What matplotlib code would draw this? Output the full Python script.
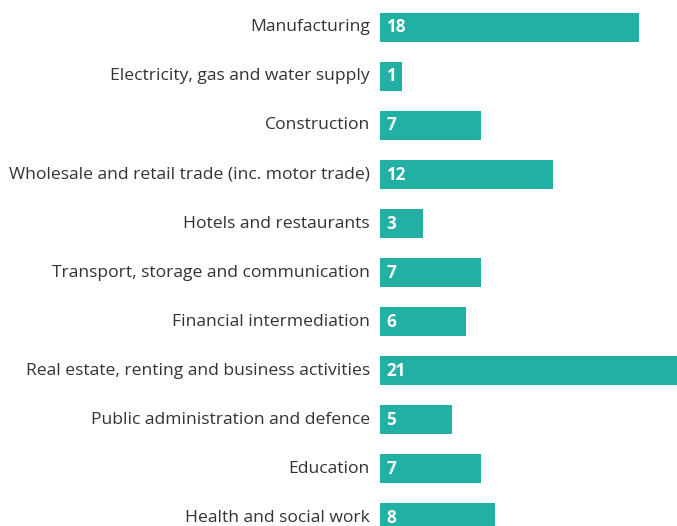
import matplotlib.pyplot as plt
import numpy as np

categories = [
    "Manufacturing",
    "Electricity, gas and water supply",
    "Construction",
    "Wholesale and retail trade (inc. motor trade)",
    "Hotels and restaurants",
    "Transport, storage and communication",
    "Financial intermediation",
    "Real estate, renting and business activities",
    "Public administration and defence",
    "Education",
    "Health and social work",
]
values = [18, 1, 7, 12, 3, 7, 6, 21, 5, 7, 8]

BAR_COLOR = "#21B0A3"
TEXT_COLOR = "#333333"
MIN_BAR = 1.5  # keep tiny bars wide enough to hold their label

plt.rcParams["font.family"] = ["Open Sans", "DejaVu Sans"]

fig = plt.figure(figsize=(6.77, 5.26), dpi=100)
ax = fig.add_axes([380 / 677, 0, 297 / 677, 1])

y = np.arange(len(categories))
ax.barh(y, [max(v, MIN_BAR) for v in values], height=0.6,
        color=BAR_COLOR, edgecolor="none")

ax.set_ylim(len(categories) - 1 + 0.17, -0.56)
ax.set_xlim(0, 297 / 14.4)

for yi, (cat, v) in enumerate(zip(categories, values)):
    ax.text(-0.7, yi, cat, ha="right", va="center", fontsize=12.6,
            color=TEXT_COLOR, clip_on=False)
    ax.text(0.45, yi, str(v), ha="left", va="center", fontsize=12.3,
            fontweight="bold", color="white")

ax.axis("off")

fig.savefig("out.png", dpi=100)
